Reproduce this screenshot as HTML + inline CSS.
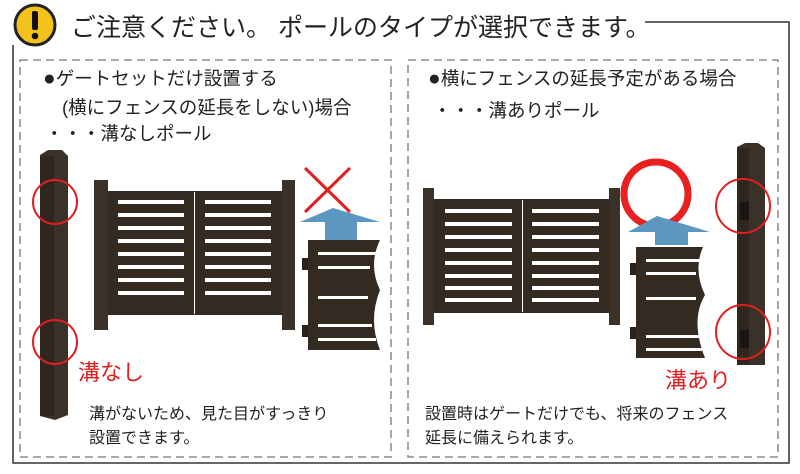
<!DOCTYPE html>
<html><head><meta charset="utf-8"><style>
html,body{margin:0;padding:0;background:#fff;}
svg{display:block;}
text{font-family:"Liberation Sans","Noto Sans CJK JP",sans-serif;}
</style></head><body>
<svg width="800" height="474" viewBox="0 0 800 474" xmlns="http://www.w3.org/2000/svg">
<polyline points="13,45 13,463 789,463 789,22 645,22" fill="none" stroke="#333" stroke-width="1.5"/>
<circle cx="35" cy="25" r="20" fill="#f3c21b" stroke="#222" stroke-width="3"/>
<rect x="32" y="11" width="6" height="19" rx="2" fill="#111"/>
<circle cx="35" cy="36" r="3.3" fill="#111"/>
<text x="71" y="36" font-size="25" fill="#222">ご注意ください。 ポールのタイプが選択できます。</text>
<rect x="20" y="60" width="371" height="397" fill="none" stroke="#777" stroke-width="1.3" stroke-dasharray="8,5"/>
<rect x="408" y="60" width="370" height="397" fill="none" stroke="#777" stroke-width="1.3" stroke-dasharray="8,5"/>
<g font-size="18.5" fill="#222">
<text x="43" y="85"><tspan font-size="21">●</tspan>ゲートセットだけ設置する</text>
<text x="62" y="114">(横にフェンスの延長をしない)場合</text>
<text x="45" y="140">・・・溝なしポール</text>
<text x="428" y="85"><tspan font-size="21">●</tspan>横にフェンスの延長予定がある場合</text>
<text x="433" y="117">・・・溝ありポール</text>
</g>
<g font-size="16" fill="#222">
<text x="89" y="419">溝がないため、見た目がすっきり</text>
<text x="89" y="443">設置できます。</text>
<text x="425" y="419">設置時はゲートだけでも、将来のフェンス</text>
<text x="425" y="443">延長に備えられます。</text>
</g>
<text x="78" y="380" font-size="22" fill="#e02020">溝なし</text>
<text x="665" y="388" font-size="22" fill="#e02020">溝あり</text>
<polygon points="40,155 48,150 62,150 68,156 68,415 55,420 40,416" fill="#3a3128"/>
<rect x="40" y="156" width="14" height="260" fill="#2e261f"/>
<circle cx="55" cy="202" r="22" fill="none" stroke="#e02020" stroke-width="2"/>
<circle cx="55" cy="342" r="22" fill="none" stroke="#e02020" stroke-width="2"/>
<rect x="94" y="180" width="14" height="150" fill="#3a3128"/>
<rect x="282" y="180" width="13" height="150" fill="#3a3128"/>
<rect x="108" y="191" width="174" height="124" fill="#332a22"/>
<g fill="#fff">
<rect x="118" y="200" width="66" height="4"/><rect x="205" y="200" width="66" height="4"/>
<rect x="118" y="213" width="66" height="4"/><rect x="205" y="213" width="66" height="4"/>
<rect x="118" y="226" width="66" height="4"/><rect x="205" y="226" width="66" height="4"/>
<rect x="118" y="239" width="66" height="4"/><rect x="205" y="239" width="66" height="4"/>
<rect x="118" y="252" width="66" height="4"/><rect x="205" y="252" width="66" height="4"/>
<rect x="118" y="265" width="66" height="4"/><rect x="205" y="265" width="66" height="4"/>
<rect x="118" y="278" width="66" height="4"/><rect x="205" y="278" width="66" height="4"/>
<rect x="118" y="291" width="66" height="4"/><rect x="205" y="291" width="66" height="4"/>
<rect x="194" y="192" width="1" height="122"/>
</g>
<line x1="305" y1="168" x2="350" y2="212" stroke="#e02020" stroke-width="3"/>
<line x1="350" y1="168" x2="305" y2="212" stroke="#e02020" stroke-width="3"/>
<polygon points="300,222 333,208 380,222 357,222 357,240 325,240 325,222" fill="#5b97c0"/>
<path d="M308,240 L380,240 Q368,265 380,290 Q368,320 380,350 L308,350 Z" fill="#332a22"/>
<g fill="#fff"><rect x="318" y="252" width="58" height="3"/><rect x="318" y="266" width="52" height="3"/><rect x="318" y="296" width="50" height="3"/><rect x="318" y="324" width="54" height="3"/><rect x="318" y="338" width="58" height="3"/></g>
<rect x="302" y="258" width="6" height="12" fill="#2a231c"/>
<rect x="302" y="325" width="6" height="12" fill="#2a231c"/>
<rect x="423" y="188" width="11" height="137" fill="#3a3128"/>
<rect x="609" y="188" width="11" height="137" fill="#3a3128"/>
<rect x="434" y="199" width="175" height="114" fill="#332a22"/>
<g fill="#fff">
<rect x="445" y="209" width="67" height="4"/><rect x="532" y="209" width="67" height="4"/>
<rect x="445" y="222" width="67" height="4"/><rect x="532" y="222" width="67" height="4"/>
<rect x="445" y="235" width="67" height="4"/><rect x="532" y="235" width="67" height="4"/>
<rect x="445" y="248" width="67" height="4"/><rect x="532" y="248" width="67" height="4"/>
<rect x="445" y="261" width="67" height="4"/><rect x="532" y="261" width="67" height="4"/>
<rect x="445" y="274" width="67" height="4"/><rect x="532" y="274" width="67" height="4"/>
<rect x="445" y="286" width="67" height="4"/><rect x="532" y="286" width="67" height="4"/>
<rect x="445" y="298" width="67" height="4"/><rect x="532" y="298" width="67" height="4"/>
<rect x="522" y="200" width="1" height="112"/>
</g>
<circle cx="656" cy="194" r="32" fill="none" stroke="#e82020" stroke-width="7"/>
<polygon points="628,232 657,216 710,232 688,232 688,245 655,245 655,232" fill="#5b97c0"/>
<path d="M636,247 L703,247 Q693,270 705,295 Q690,320 705,358 L636,358 Z" fill="#332a22"/>
<g fill="#fff"><rect x="646" y="259" width="54" height="3"/><rect x="646" y="272" width="50" height="3"/><rect x="646" y="297" width="50" height="3"/><rect x="646" y="335" width="54" height="3"/><rect x="646" y="348" width="56" height="3"/></g>
<rect x="630" y="263" width="6" height="12" fill="#2a231c"/>
<rect x="630" y="327" width="6" height="12" fill="#2a231c"/>
<polygon points="737,147 745,143 758,143 765,148 765,365 737,365" fill="#3a3128"/>
<rect x="737" y="148" width="12" height="217" fill="#2e261f"/>
<rect x="740" y="202" width="9" height="18" fill="#1a1510"/>
<rect x="740" y="330" width="9" height="18" fill="#1a1510"/>
<circle cx="743" cy="206" r="27" fill="none" stroke="#e02020" stroke-width="2"/>
<circle cx="743" cy="332" r="27" fill="none" stroke="#e02020" stroke-width="2"/>
</svg>
</body></html>
